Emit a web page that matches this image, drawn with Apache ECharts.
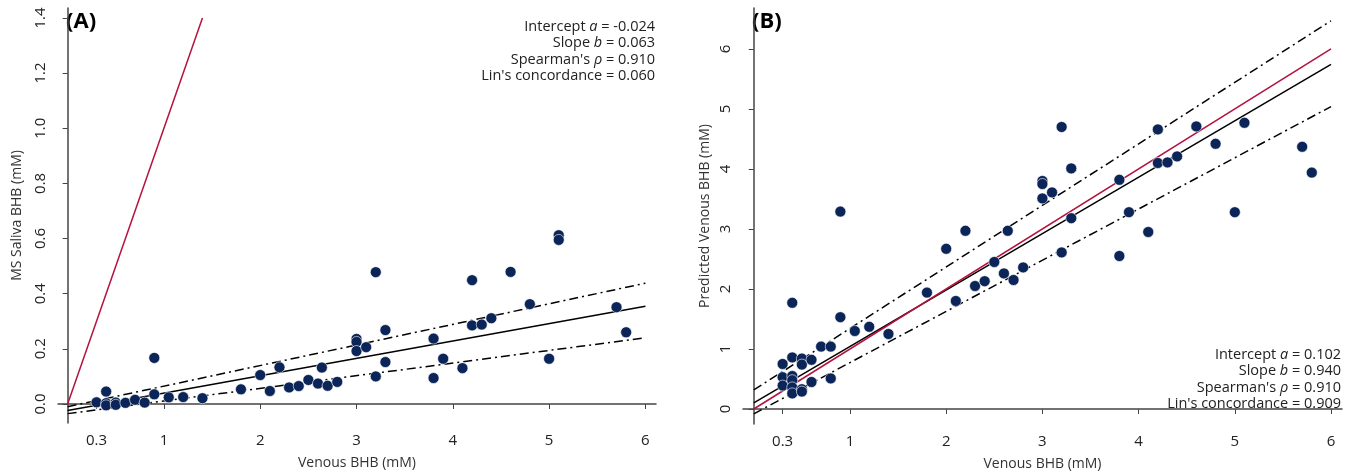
<!DOCTYPE html>
<html>
<head>
<meta charset="utf-8">
<script src="https://cdn.jsdelivr.net/npm/echarts@6/dist/echarts.min.js"></script>
<style>
  html, body { margin: 0; padding: 0; background: #fff; }
  #chart { width: 1352px; height: 473px; }
</style>
</head>
<body>
<div id="chart"></div>
<script>
// x ticks shared by both panels
const xTicks = [0.3, 1, 2, 3, 4, 5, 6]
const yTicksA = [0, 0.2, 0.4, 0.6, 0.8, 1.0, 1.2, 1.4]
const yTicksB = [0, 1, 2, 3, 4, 5, 6]

// panel A: venous vs MS saliva
const venousA = [0.3, 0.4, 0.4, 0.4, 0.5, 0.5, 0.6, 0.7, 0.8, 0.9, 0.9, 1.05, 1.2, 1.4,
  1.8, 2.0, 2.1, 2.2, 2.3, 2.4, 2.5, 2.6, 2.64, 2.7, 2.8, 3.0, 3.0, 3.0, 3.1, 3.2, 3.2,
  3.3, 3.3, 3.8, 3.8, 3.9, 4.1, 4.2, 4.2, 4.3, 4.4, 4.6, 4.8, 5.0, 5.1, 5.1, 5.7, 5.8]
const salivaA = [0.006, 0.045, 0.003, -0.005, 0.005, -0.003, 0.004, 0.015, 0.005, 0.167, 0.035, 0.024, 0.025, 0.021,
  0.053, 0.105, 0.047, 0.133, 0.06, 0.065, 0.087, 0.074, 0.132, 0.066, 0.08, 0.236, 0.225, 0.192, 0.206, 0.478, 0.1,
  0.268, 0.152, 0.237, 0.094, 0.164, 0.13, 0.449, 0.285, 0.288, 0.311, 0.479, 0.362, 0.164, 0.612, 0.595, 0.351, 0.26]

// panel B: venous vs predicted venous
const venousB = [0.3, 0.3, 0.3, 0.4, 0.4, 0.4, 0.4, 0.4, 0.4, 0.5, 0.5, 0.5, 0.5, 0.6, 0.6, 0.7, 0.8, 0.8,
  0.9, 0.9, 1.05, 1.2, 1.4, 1.8, 2.0, 2.1, 2.2, 2.3, 2.4, 2.5, 2.6, 2.64, 2.7, 2.8, 3.0, 3.0, 3.0, 3.1,
  3.2, 3.2, 3.3, 3.3, 3.8, 3.8, 3.9, 4.1, 4.2, 4.2, 4.3, 4.4, 4.6, 4.8, 5.0, 5.1, 5.7, 5.8]
const predictedB = [0.75, 0.53, 0.39, 1.77, 0.86, 0.55, 0.48, 0.36, 0.26, 0.84, 0.74, 0.33, 0.29, 0.82, 0.45, 1.04, 1.04, 0.51,
  3.29, 1.53, 1.30, 1.37, 1.25, 1.94, 2.67, 1.80, 2.97, 2.05, 2.13, 2.45, 2.26, 2.97, 2.15, 2.36, 3.80, 3.75, 3.51, 3.61,
  4.70, 2.61, 4.01, 3.18, 3.82, 2.55, 3.28, 2.95, 4.66, 4.10, 4.11, 4.21, 4.71, 4.42, 3.28, 4.77, 4.37, 3.94]

// fitted lines (intercept, slope) and interval lines (endpoints at x = 0 and x = 6)
const fitA = [-0.024, 0.063]
const upperA = [[0, -0.01], [6, 0.438]]
const lowerA = [[0, -0.035], [6, 0.24]]
const identityA = [[0, 0], [1.4, 1.4]]
const fitB = [0.102, 0.940]
const upperB = [[0, 0.317], [6, 6.47]]
const lowerB = [[0, -0.08], [6, 5.04]]
const identityB = [[0, 0], [6, 6]]

const statsA = ['-0.024', '0.063', '0.910', '0.060']
const statsB = ['0.102', '0.940', '0.910', '0.909']

const FONT = 'Open Sans'
const dotColor = '#0b2559'
const redColor = '#b5123f'
const axisColor = '#444'

function fitLine(p) {
  return [[0, p[0]], [6, p[0] + p[1] * 6]]
}

function zip(xs, ys) {
  return xs.map((x, i) => [x, ys[i]])
}

function xAxisCfg(idx, min, max) {
  return {
    type: 'value', gridIndex: idx, min: min, max: max,
    name: 'Venous BHB (mM)', nameLocation: 'middle', nameGap: 33,
    nameTextStyle: { fontFamily: FONT, fontSize: 14, color: '#333' },
    axisLine: { lineStyle: { color: axisColor, width: 1.5 } },
    axisTick: { length: 5, customValues: xTicks, lineStyle: { color: axisColor } },
    axisLabel: { customValues: xTicks, margin: 10, fontFamily: FONT, fontSize: 15, color: '#222',
      formatter: v => String(v) },
    splitLine: { show: false }
  }
}

function yAxisCfg(idx, min, max, ticks, name, gap, fmt) {
  return {
    type: 'value', gridIndex: idx, min: min, max: max,
    name: name, nameLocation: 'middle', nameGap: gap,
    nameTextStyle: { fontFamily: FONT, fontSize: 14, color: '#333' },
    axisLine: { show: true, lineStyle: { color: axisColor, width: 1.5 } },
    axisTick: { show: true, length: 5, customValues: ticks, lineStyle: { color: axisColor } },
    axisLabel: { customValues: ticks, rotate: 90, margin: 10, fontFamily: FONT, fontSize: 15, color: '#222',
      formatter: fmt },
    splitLine: { show: false }
  }
}

function lineSeries(idx, data, color, dashed) {
  return {
    type: 'line', xAxisIndex: idx, yAxisIndex: idx, data: data,
    symbol: 'none', silent: true, z: 3,
    lineStyle: { color: color, width: 1.5, type: dashed ? [9, 4, 2, 4] : 'solid' }
  }
}

const richStyle = {
  n: { fontFamily: FONT, fontSize: 14.5, fill: '#222' },
  i: { fontFamily: FONT, fontSize: 14.5, fontStyle: 'italic', fill: '#222' }
}

// four right-aligned lines of statistics, one text element per line
function statsGraphics(vals, right, top) {
  const lines = [
    '{n|Intercept }{i|a}{n| = ' + vals[0] + '}',
    '{n|Slope }{i|b}{n| = ' + vals[1] + '}',
    '{n|Spearman\'s }{i|ρ}{n| = ' + vals[2] + '}',
    '{n|Lin\'s concordance = ' + vals[3] + '}'
  ]
  return lines.map((t, i) => ({
    type: 'text', right: right, top: top + i * 16.5,
    style: { text: t, rich: richStyle }
  }))
}

const myChart = echarts.init(document.getElementById('chart'))
myChart.setOption({
  animation: false,
  grid: [
    { left: 58, top: 8, width: 598, height: 415, outerBoundsMode: 'none', containLabel: false },
    { left: 743, top: 8, width: 599, height: 416, outerBoundsMode: 'none', containLabel: false }
  ],
  xAxis: [xAxisCfg(0, -0.1, 6.11), xAxisCfg(1, -0.112, 6.114)],
  yAxis: [
    yAxisCfg(0, -0.069, 1.436, yTicksA, 'MS Saliva BHB (mM)', 34, v => v.toFixed(1)),
    yAxisCfg(1, -0.25, 6.683, yTicksB, 'Predicted Venous BHB (mM)', 31, v => String(v))
  ],
  series: [
    lineSeries(0, identityA, redColor, false),
    lineSeries(0, fitLine(fitA), '#000', false),
    lineSeries(0, upperA, '#000', true),
    lineSeries(0, lowerA, '#000', true),
    {
      type: 'scatter', xAxisIndex: 0, yAxisIndex: 0, data: zip(venousA, salivaA),
      symbolSize: 11, z: 4,
      itemStyle: { color: dotColor, opacity: 1, borderColor: '#fff', borderWidth: 0.6 }
    },
    lineSeries(1, fitLine(fitB), '#000', false),
    lineSeries(1, identityB, redColor, false),
    lineSeries(1, upperB, '#000', true),
    lineSeries(1, lowerB, '#000', true),
    {
      type: 'scatter', xAxisIndex: 1, yAxisIndex: 1, data: zip(venousB, predictedB),
      symbolSize: 11, z: 4,
      itemStyle: { color: dotColor, opacity: 1, borderColor: '#fff', borderWidth: 0.6 }
    }
  ],
  graphic: [
    { type: 'text', left: 66, top: 11,
      style: { text: '(A)', font: 'bold 22px "Open Sans"', fill: '#000' } },
    { type: 'text', left: 752, top: 11,
      style: { text: '(B)', font: 'bold 22px "Open Sans"', fill: '#000' } }
  ].concat(statsGraphics(statsA, 1352 - 655, 19), statsGraphics(statsB, 1352 - 1341, 347))
})
</script>
</body>
</html>
